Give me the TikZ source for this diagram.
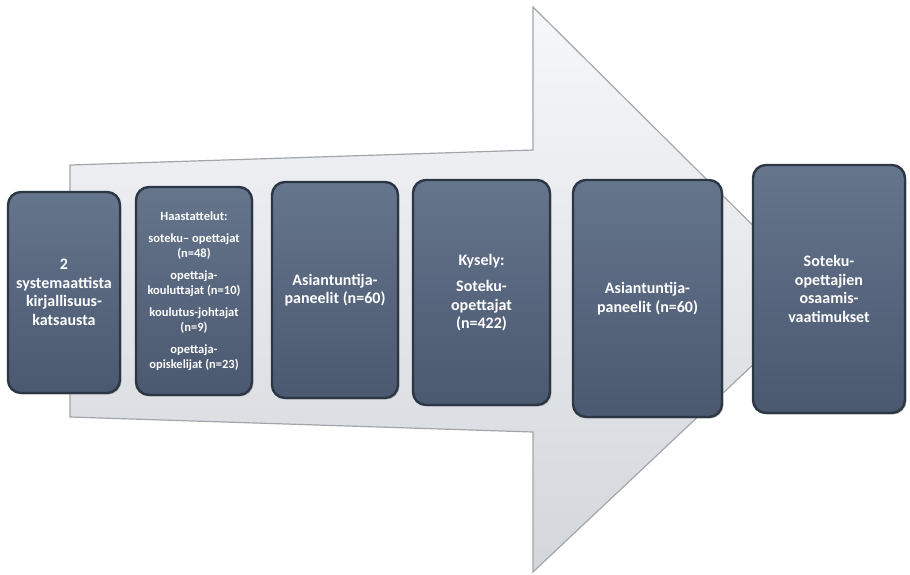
\documentclass[tikz,border=0pt]{standalone}
\usepackage{fontspec}
\setmainfont{Carlito}
\usetikzlibrary{shadows}

\definecolor{boxtop}{HTML}{65758C}
\definecolor{boxbot}{HTML}{4A5870}
\definecolor{boxline}{HTML}{2C3644}
\definecolor{arrowtop}{HTML}{F6F7F9}
\definecolor{arrowbot}{HTML}{D3D6DB}
\definecolor{arrowline}{HTML}{A2A6AB}

\tikzset{
	stepbox/.style={rounded corners=13pt, draw=boxline, line width=2.4pt,
		top color=boxtop, bottom color=boxbot, text=white, align=center,
		font=\bfseries\fontsize{16}{18.5}\selectfont, inner sep=2pt,
		drop shadow={shadow xshift=1.5pt, shadow yshift=-1.5pt, fill=black!40, opacity=0.5}},
	listfont/.style={font=\bfseries\fontsize{12.5}{15}\selectfont}
}

\begin{document}
\begin{tikzpicture}[x=1pt, y=-1pt]
	
	% page frame
	\useasboundingbox (0,0) rectangle (910,574);
	
	% big arrow in the background
	\shade[top color=arrowtop, bottom color=arrowbot, draw=arrowline, line width=1.2pt]
		(70,165) -- (533,150) -- (533,7) -- (825,297) -- (533,572) -- (533,432) -- (70,417) -- cycle;
	
	% steps
	\node[stepbox, minimum width=112pt, minimum height=201pt] (lit) at (64,292.5)
		{2\\systemaattista\\kirjallisuus-\\katsausta};
	\node[stepbox, listfont, minimum width=116pt, minimum height=208pt] (haast) at (194,291)
		{Haastattelut:\\[7pt]
		soteku– opettajat\\(n=48)\\[7pt]
		opettaja-\\kouluttajat (n=10)\\[7pt]
		koulutus-johtajat\\(n=9)\\[7pt]
		opettaja-\\opiskelijat (n=23)};
	\node[stepbox, minimum width=126pt, minimum height=216pt] (paneeli1) at (335,290)
		{Asiantuntija-\\paneelit (n=60)};
	\node[stepbox, minimum width=137pt, minimum height=225pt] (kysely) at (481.5,292.5)
		{Kysely:\\[8pt]Soteku-\\opettajat\\(n=422)};
	\node[stepbox, minimum width=149pt, minimum height=237pt] (paneeli2) at (647.5,298.5)
		{Asiantuntija-\\paneelit (n=60)};
	\node[stepbox, minimum width=152pt, minimum height=248pt] (tulos) at (829,289)
		{Soteku-\\opettajien\\osaamis-\\vaatimukset};
	
\end{tikzpicture}
\end{document}
